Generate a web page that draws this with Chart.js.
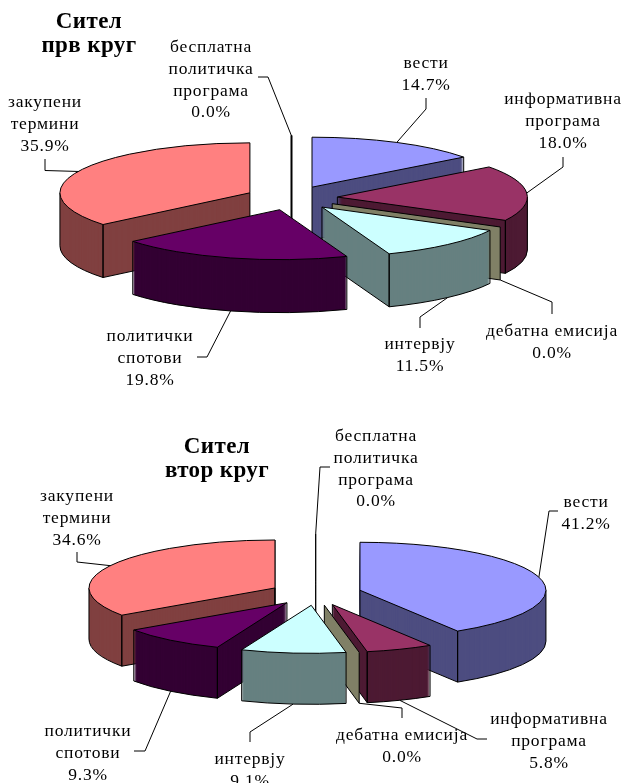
<!DOCTYPE html>
<html>
<head>
<meta charset="utf-8">
<title>Сител</title>
<script src="https://cdn.jsdelivr.net/npm/chart.js@4"></script>
<style>
    html, body { margin: 0; padding: 0; background: #fff; overflow: hidden; }
    canvas { display: block; }
</style>
</head>
<body>
<canvas id="chart1" width="624" height="400"></canvas>
<canvas id="chart2" width="624" height="383"></canvas>

<script>
// Dados ---------------------------------------------------
const categorias = [
    ['вести'],
    ['информативна', 'програма'],
    ['дебатна емисија'],
    ['интервју'],
    ['политички', 'спотови'],
    ['закупени', 'термини'],
    ['бесплатна', 'политичка', 'програма']
];
const valores_prv = [14.7, 18.0, 0.0, 11.5, 19.8, 35.9, 0.0];
const valores_vtor = [41.2, 5.8, 0.0, 9.1, 9.3, 34.6, 0.0];
const titulo_prv = ['Сител', 'прв круг'];
const titulo_vtor = ['Сител', 'втор круг'];

// Cores ---------------------------------------------------
const cores_topo = ['#9999FF', '#993366', '#FFFFCC', '#CCFFFF', '#660066', '#FF8080', '#0066CC'];
const cores_lado = ['#4D4D80', '#4D1A33', '#808066', '#668080', '#330033', '#804040', '#003366'];

// Posicoes dos rotulos (x centro, y primeira linha) e das linhas guia, em pixels da pagina
const rotulos_prv = [[426, 68], [563, 104], [552, 336], [420, 349], [150, 341], [45, 107], [211, 52]];
const guias_prv = [
    [[426, 109], [426, 98]],
    [[563, 167], [563, 157]],
    [[552, 302], [552, 314]],
    [[420, 317], [420, 328]],
    [[207, 357], [197, 357]],
    [[45, 170.5], [45, 159]],
    [[268, 77], [258, 77]]
];
const rotulos_vtor = [[586, 507], [549, 724], [402, 740], [250, 764], [88, 736], [77, 501], [376, 441]];
const guias_vtor = [
    [[549, 511], [558, 511]],
    [[477, 739], [487, 739]],
    [[402, 708], [402, 718]],
    [[250, 732], [250, 742]],
    [[145, 751], [134, 751]],
    [[77, 562], [77, 552]],
    [[320, 467], [330, 467]]
];

const fonte_rotulo = '17.5px "Liberation Serif"';
const fonte_titulo = 'bold 23px "Liberation Serif"';

// Plugin que desenha os arcos do Chart.js como pizza 3D explodida
const pizza3d = {
    id: 'pizza3d',
    beforeDatasetsDraw(chart, args, op) {
        const ctx = chart.ctx;
        const arcos = chart.getDatasetMeta(0).data;

        const fatias = arcos.map(function (arc, i) {
            const meio = (arc.startAngle + arc.endAngle) / 2;
            return {
                arc: arc,
                i: i,
                meio: meio,
                ax: arc.x + Math.cos(meio) * op.explosao,
                ay: arc.y + Math.sin(meio) * op.explosao * op.k
            };
        });

        // de tras para frente
        const ordem = fatias.slice().sort(function (a, b) {
            return Math.sin(a.meio) - Math.sin(b.meio);
        });

        ordem.forEach(function (f) {
            desenharFatia(ctx, f, op);
        });

        ctx.save();
        ctx.translate(0, -op.topo);
        fatias.forEach(function (f) {
            desenharRotulo(ctx, f, op);
        });
        ctx.font = fonte_titulo;
        ctx.letterSpacing = '0.4px';
        ctx.textAlign = 'center';
        ctx.fillStyle = '#000';
        op.titulo.forEach(function (linha, n) {
            ctx.fillText(linha, op.tituloPos[0], op.tituloPos[1] + n * 24);
        });
        ctx.restore();

        return false;
    }
};

function desenharArco(ctx, f, op, dy, cor) {
    const arc = f.arc;
    const original = arc.options;
    arc.options = Object.assign({}, original, { backgroundColor: cor, borderWidth: 0 });
    ctx.save();
    ctx.translate(f.ax, f.ay + dy);
    ctx.scale(1, op.k);
    ctx.translate(-arc.x, -arc.y);
    arc.draw(ctx);
    ctx.restore();
    arc.options = original;
}

function desenharFatia(ctx, f, op) {
    const arc = f.arc;
    const R = arc.outerRadius;
    const ry = R * op.k;
    const D = op.altura;
    const ini = arc.startAngle;
    const fim = arc.endAngle;
    const px = function (t) { return f.ax + Math.cos(t) * R; };
    const py = function (t) { return f.ay + Math.sin(t) * ry; };

    ctx.save();
    ctx.strokeStyle = '#000';
    ctx.lineWidth = 1;
    ctx.lineJoin = 'round';

    // fatia de 0%: so uma placa vertical
    if (fim - ini === 0) {
        // vista de perfil ela vira uma linha
        if (Math.abs(Math.cos(ini)) < 0.01) ctx.lineWidth = op.linhaPerfil;
        ctx.fillStyle = cores_lado[f.i];
        ctx.beginPath();
        ctx.moveTo(f.ax, f.ay);
        ctx.lineTo(px(ini), py(ini));
        ctx.lineTo(px(ini), py(ini) + D);
        ctx.lineTo(f.ax, f.ay + D);
        ctx.closePath();
        ctx.fill();
        ctx.stroke();
        ctx.restore();
        return;
    }

    // parede
    for (let d = D; d >= 1; d--) {
        desenharArco(ctx, f, op, d, cores_lado[f.i]);
    }

    ctx.beginPath();
    // parede externa, so a metade da frente
    const s = Math.max(ini, 0);
    const e = Math.min(fim, Math.PI);
    if (e > s) {
        ctx.moveTo(px(s), py(s));
        ctx.lineTo(px(s), py(s) + D);
        ctx.ellipse(f.ax, f.ay + D, R, ry, 0, s, e);
        ctx.lineTo(px(e), py(e));
    }
    // cortes radiais visiveis
    if (Math.cos(ini) < 0) {
        ctx.moveTo(f.ax, f.ay);
        ctx.lineTo(f.ax, f.ay + D);
        ctx.lineTo(px(ini), py(ini) + D);
        ctx.lineTo(px(ini), py(ini));
    }
    if (Math.cos(fim) > 0) {
        ctx.moveTo(f.ax, f.ay);
        ctx.lineTo(f.ax, f.ay + D);
        ctx.lineTo(px(fim), py(fim) + D);
        ctx.lineTo(px(fim), py(fim));
    }
    ctx.stroke();

    // topo
    desenharArco(ctx, f, op, 0, cores_topo[f.i]);
    ctx.beginPath();
    ctx.moveTo(f.ax, f.ay);
    ctx.ellipse(f.ax, f.ay, R, ry, 0, ini, fim);
    ctx.closePath();
    ctx.stroke();
    ctx.restore();
}

function desenharRotulo(ctx, f, op) {
    const R = f.arc.outerRadius;
    const pos = op.rotulos[f.i];
    const guia = op.guias[f.i];

    // a linha guia sai do meio da borda da fatia
    const bx = f.ax + Math.cos(f.meio) * R;
    let by = f.ay + Math.sin(f.meio) * R * op.k + op.topo;
    if (Math.sin(f.meio) > 0) by += op.altura;

    ctx.strokeStyle = '#000';
    ctx.lineWidth = 1;
    ctx.beginPath();
    ctx.moveTo(bx, by);
    guia.forEach(function (p) {
        ctx.lineTo(p[0], p[1]);
    });
    ctx.stroke();

    const linhas = categorias[f.i].concat(op.valores[f.i].toFixed(1) + '%');
    ctx.font = fonte_rotulo;
    ctx.letterSpacing = '0.8px';
    ctx.textAlign = 'center';
    ctx.fillStyle = '#000';
    linhas.forEach(function (linha, n) {
        ctx.fillText(linha, pos[0], pos[1] + n * 21.8);
    });
    ctx.letterSpacing = '0px';
}

function plotarPizza(id, valores, extra, padding, raio) {
    new Chart(document.getElementById(id), {
        type: 'pie',
        data: {
            labels: categorias.map(function (c) { return c.join(' '); }),
            datasets: [{
                data: valores,
                backgroundColor: cores_topo,
                borderWidth: 0
            }]
        },
        options: {
            responsive: false,
            animation: false,
            events: [],
            radius: raio,
            layout: { padding: padding },
            plugins: {
                legend: { display: false },
                tooltip: { enabled: false },
                title: { display: false },
                pizza3d: Object.assign({ valores: valores }, extra)
            }
        },
        plugins: [pizza3d]
    });
}

plotarPizza('chart1', valores_prv, {
    topo: 0, k: 0.263, explosao: 46, altura: 53, linhaPerfil: 2,
    rotulos: rotulos_prv, guias: guias_prv,
    titulo: titulo_prv, tituloPos: [89, 28]
}, { right: 41, bottom: 4 }, 190);

plotarPizza('chart2', valores_vtor, {
    topo: 400, k: 0.258, explosao: 46, altura: 51, linhaPerfil: 1,
    rotulos: rotulos_vtor, guias: guias_vtor,
    titulo: titulo_vtor, tituloPos: [217, 453]
}, { left: 7.4, top: 4 }, 186);
</script>
</body>
</html>
